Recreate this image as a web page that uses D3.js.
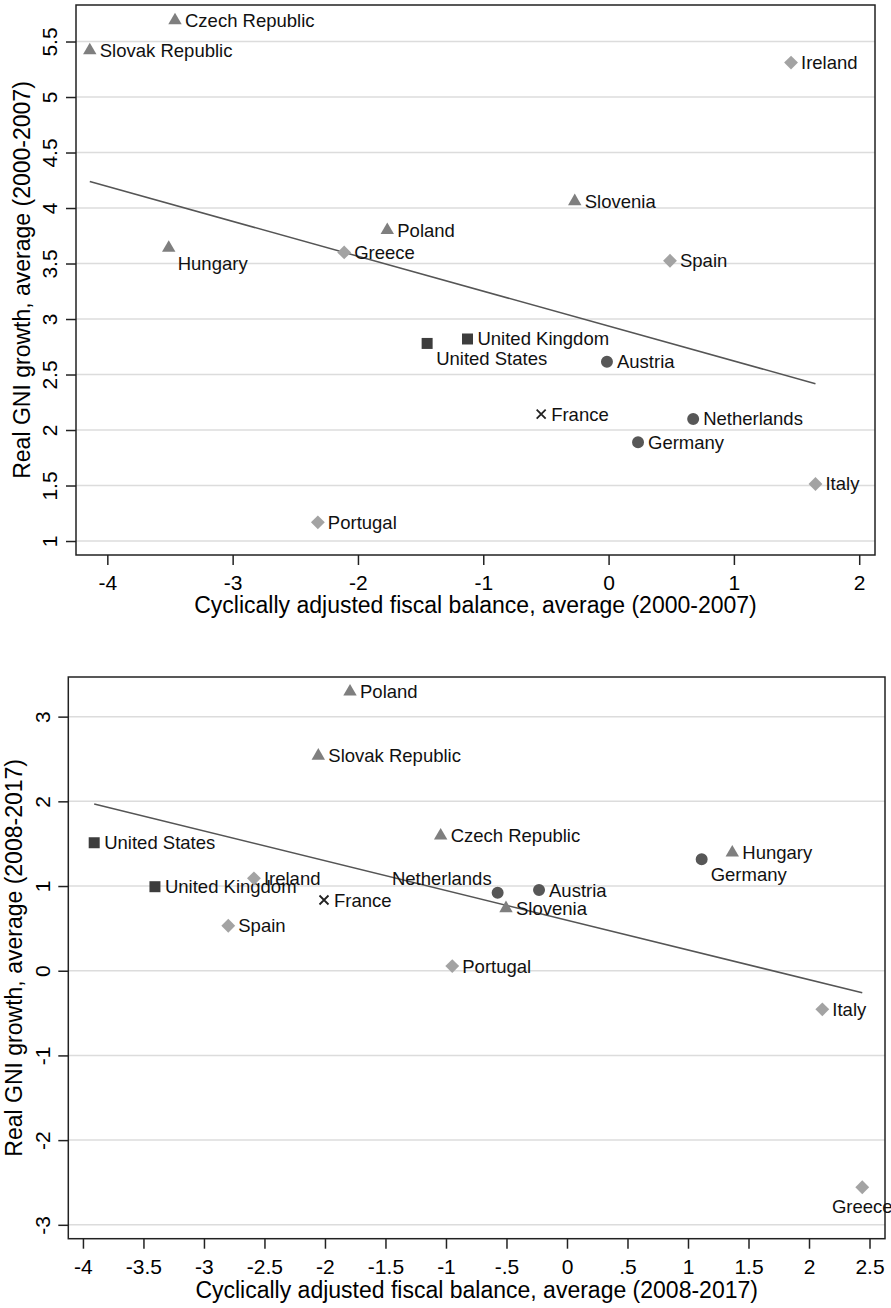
<!DOCTYPE html>
<html><head><meta charset="utf-8">
<script src="https://cdn.jsdelivr.net/npm/d3@7"></script>
<style>body{margin:0;background:#fff} svg{display:block}</style>
</head><body>
<svg id="chart" width="891" height="1308"></svg>
<script>
// ---------- Panel 1 data (2000-2007) ----------
const countries1 = ["Czech Republic","Slovak Republic","Hungary","Ireland","Slovenia","Poland","Greece","Spain","United States","United Kingdom","Austria","France","Netherlands","Germany","Italy","Portugal"];
const balance1 = [-3.46,-4.14,-3.51,1.456,-0.27,-1.766,-2.11,0.49,-1.448,-1.126,-0.013,-0.538,0.675,0.235,1.651,-2.32];
const growth1 = [5.69,5.42,3.64,5.31,4.06,3.80,3.60,3.525,2.78,2.82,2.615,2.144,2.10,1.889,1.514,1.168];
const labelPos1 = ["r","r","br","r","r","r","r","r","br","r","r","r","r","r","r","r"];
const xTicks1 = [-4,-3,-2,-1,0,1,2];
const yTicks1 = [1,1.5,2,2.5,3,3.5,4,4.5,5,5.5];
const xTitle1 = "Cyclically adjusted fiscal balance, average (2000-2007)";
const yTitle1 = "Real GNI growth, average (2000-2007)";

// ---------- Panel 2 data (2008-2017) ----------
const countries2 = ["Poland","Slovak Republic","United States","United Kingdom","Ireland","France","Spain","Czech Republic","Hungary","Germany","Netherlands","Austria","Slovenia","Portugal","Italy","Greece"];
const balance2 = [-1.793,-2.055,-3.907,-3.405,-2.587,-2.008,-2.799,-1.044,1.366,1.113,-0.573,-0.231,-0.504,-0.948,2.11,2.44];
const growth2 = [3.294,2.538,1.511,0.992,1.091,0.835,0.531,1.594,1.393,1.315,0.921,0.953,0.737,0.055,-0.456,-2.557];
const labelPos2 = ["r","r","r","r","r","r","r","r","r","br","tl","r","r","r","r","b"];
const xTicks2 = [-4,-3.5,-3,-2.5,-2,-1.5,-1,-0.5,0,0.5,1,1.5,2,2.5];
const yTicks2 = [-3,-2,-1,0,1,2,3];
const xTitle2 = "Cyclically adjusted fiscal balance, average (2008-2017)";
const yTitle2 = "Real GNI growth, average (2008-2017)";

// country groups -> marker type
const groupCountries = {
  triangle: ["Czech Republic","Slovak Republic","Hungary","Slovenia","Poland"],
  diamond: ["Ireland","Greece","Spain","Italy","Portugal"],
  circle: ["Austria","Netherlands","Germany"],
  square: ["United States","United Kingdom"],
  cross: ["France"]
};

const FONT = "'Liberation Sans', Arial, Helvetica, sans-serif";
const svg = d3.select("#chart");

function groupOf(c){
  for (const k in groupCountries) if (groupCountries[k].includes(c)) return k;
  return "circle";
}
function stataFmt(v){
  let s = String(v);
  return s.replace(/^(-?)0\./, "$1.");
}

function drawPanel(cfg){
  const x = d3.scaleLinear().domain(cfg.xDomain).range([cfg.left, cfg.right]);
  const y = d3.scaleLinear().domain(cfg.yDomain).range([cfg.bottom, cfg.top]);
  const g = svg.append("g");

  // gridlines
  g.selectAll("line.grid").data(cfg.yTicks).join("line")
    .attr("x1", cfg.left).attr("x2", cfg.right)
    .attr("y1", d => y(d)).attr("y2", d => y(d))
    .attr("stroke", "#dcdcdc").attr("stroke-width", 1.5);

  // axes
  const yAxis = g.append("g").attr("transform", `translate(${cfg.left},0)`)
    .call(d3.axisLeft(y).tickValues(cfg.yTicks).tickSize(10).tickFormat(stataFmt));
  yAxis.select(".domain").remove();
  yAxis.selectAll(".tick line").attr("stroke", "#222").attr("stroke-width", 1.5);
  yAxis.selectAll(".tick text")
    .attr("x", null).attr("dy", null)
    .attr("transform", `translate(${-cfg.yLabelOff},0) rotate(-90)`)
    .attr("text-anchor", "middle")
    .attr("font-family", FONT).attr("font-size", 21).attr("fill", "#000");

  const xAxis = g.append("g").attr("transform", `translate(0,${cfg.bottom})`)
    .call(d3.axisBottom(x).tickValues(cfg.xTicks).tickSize(10).tickFormat(stataFmt));
  xAxis.select(".domain").remove();
  xAxis.selectAll(".tick line").attr("stroke", "#222").attr("stroke-width", 1.5);
  xAxis.selectAll(".tick text")
    .attr("y", 35).attr("dy", null)
    .attr("font-family", FONT).attr("font-size", 21).attr("fill", "#000");

  // frame
  g.append("rect")
    .attr("x", cfg.left).attr("y", cfg.top)
    .attr("width", cfg.right - cfg.left).attr("height", cfg.bottom - cfg.top)
    .attr("fill", "none").attr("stroke", "#222").attr("stroke-width", 1.5);

  // titles
  g.append("text")
    .attr("x", (cfg.left + cfg.right) / 2).attr("y", cfg.xTitleY)
    .attr("text-anchor", "middle").attr("font-family", FONT).attr("font-size", 23)
    .attr("fill", "#000").text(cfg.xTitle);
  g.append("text")
    .attr("transform", `translate(${cfg.yTitleX},${(cfg.top + cfg.bottom) / 2}) rotate(-90)`)
    .attr("text-anchor", "middle").attr("font-family", FONT).attr("font-size", 23)
    .attr("fill", "#000").text(cfg.yTitle);

  // fitted line (OLS from the data)
  const xs = cfg.xs, ys = cfg.ys;
  const mx = d3.mean(xs), my = d3.mean(ys);
  let sxy = 0, sxx = 0;
  xs.forEach((v, i) => { sxy += (v - mx) * (ys[i] - my); sxx += (v - mx) * (v - mx); });
  const b = sxy / sxx, a = my - b * mx;
  const [x0, x1] = d3.extent(xs);
  g.append("line")
    .attr("x1", x(x0)).attr("y1", y(a + b * x0))
    .attr("x2", x(x1)).attr("y2", y(a + b * x1))
    .attr("stroke", "#555").attr("stroke-width", 1.5);

  // points
  const data = cfg.names.map((n, i) => ({name: n, x: xs[i], y: ys[i], pos: cfg.pos[i], grp: groupOf(n)}));
  const pts = g.append("g");
  data.forEach(d => {
    const px = x(d.x), py = y(d.y);
    if (d.grp === "triangle") {
      pts.append("path").attr("d", d3.symbol(d3.symbolTriangle, 78)())
        .attr("transform", `translate(${px},${py})`).attr("fill", "#7f7f7f");
    } else if (d.grp === "diamond") {
      pts.append("path").attr("d", d3.symbol(d3.symbolSquare, 96)())
        .attr("transform", `translate(${px},${py}) rotate(45)`).attr("fill", "#a3a3a3");
    } else if (d.grp === "circle") {
      pts.append("path").attr("d", d3.symbol(d3.symbolCircle, 113)())
        .attr("transform", `translate(${px},${py})`).attr("fill", "#575757");
    } else if (d.grp === "square") {
      pts.append("path").attr("d", d3.symbol(d3.symbolSquare, 121)())
        .attr("transform", `translate(${px},${py})`).attr("fill", "#3d3d3d");
    } else {
      const s = 4.5;
      pts.append("path").attr("d", `M${-s},${-s}L${s},${s}M${-s},${s}L${s},${-s}`)
        .attr("transform", `translate(${px},${py})`)
        .attr("stroke", "#222").attr("stroke-width", 1.8).attr("fill", "none");
    }
    let tx = px + 10, ty = py + 6.5, anchor = "start";
    if (d.pos === "br") { tx = px + 9; ty = py + 22; }
    else if (d.pos === "tl") { tx = px - 6; ty = py - 8; anchor = "end"; }
    else if (d.pos === "b") { tx = px; ty = py + 26; anchor = "middle"; }
    pts.append("text").attr("x", tx).attr("y", ty).attr("text-anchor", anchor)
      .attr("font-family", FONT).attr("font-size", 18.5).attr("fill", "#111").text(d.name);
  });
}

drawPanel({
  left: 76, right: 875, top: 5, bottom: 555,
  xDomain: [-4.25, 2.126], yDomain: [0.874, 5.829],
  xTicks: xTicks1, yTicks: yTicks1,
  names: countries1, xs: balance1, ys: growth1, pos: labelPos1,
  xTitle: xTitle1, yTitle: yTitle1,
  yLabelOff: 19, xTitleY: 613, yTitleX: 30
});

drawPanel({
  left: 68.3, right: 885, top: 677, bottom: 1238.7,
  xDomain: [-4.121, 2.628], yDomain: [-3.164, 3.468],
  xTicks: xTicks2, yTicks: yTicks2,
  names: countries2, xs: balance2, ys: growth2, pos: labelPos2,
  xTitle: xTitle2, yTitle: yTitle2,
  yLabelOff: 18, xTitleY: 1298, yTitleX: 22
});
</script>
</body></html>
